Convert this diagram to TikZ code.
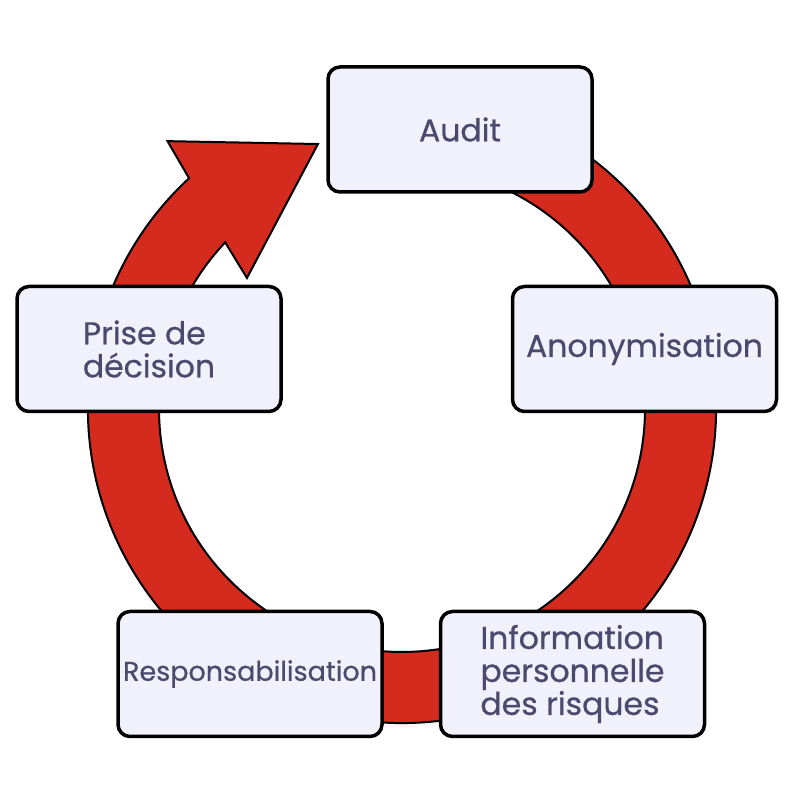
\documentclass[tikz,border=0pt]{standalone}
\usepackage{fontspec}
\setmainfont{Poppins}
\newfontfamily\stagefont{Poppins}[BoldFont=Poppins, BoldFeatures={FakeBold=0.6}]
\definecolor{ringred}{RGB}{212,43,30}
\definecolor{boxfill}{RGB}{241,241,251}
\definecolor{boxtext}{RGB}{75,74,110}
\begin{document}
\begin{tikzpicture}[x=1pt, y=1pt,
  stage/.style={draw=black, line width=3.5pt, fill=boxfill, rounded corners=12pt,
    minimum width=264, minimum height=125, text=boxtext,
    font=\stagefont\bfseries\fontsize{31.5}{33}\selectfont, align=left, inner sep=0pt}]
\useasboundingbox (0,0) rectangle (800,800);
\coordinate (hub) at (402,391);

% the ring with its head
\filldraw [ringred, draw=black, line width=2pt]
     ([shift={(70:314)}]hub)
  arc[start angle=70, end angle=-227.3, radius=314]
  -- ([shift={(131.2:356)}]hub) coordinate (barbout)
  -- ([shift={(107.6:278)}]hub) coordinate (headtip)
  -- ([shift={(139.8:203)}]hub) coordinate (barbin)
  -- ([shift={(136.7:243)}]hub)
  arc[start angle=-223.3, end angle=70, radius=243]
  -- cycle;

%
\node [stage] (audit)  at (460,670.5) {Audit};
\node [stage] (anon)   at (644.5,451) {Anonymisation};
\node [stage] (info)   at (572.5,126) {Information\\personnelle\\des risques};
\node [stage, font=\stagefont\bfseries\fontsize{27}{30}\selectfont] (resp) at (250,126) {Responsabilisation};
\node [stage] (prise)  at (149,451) {Prise de\\décision};
\end{tikzpicture}
\end{document}
